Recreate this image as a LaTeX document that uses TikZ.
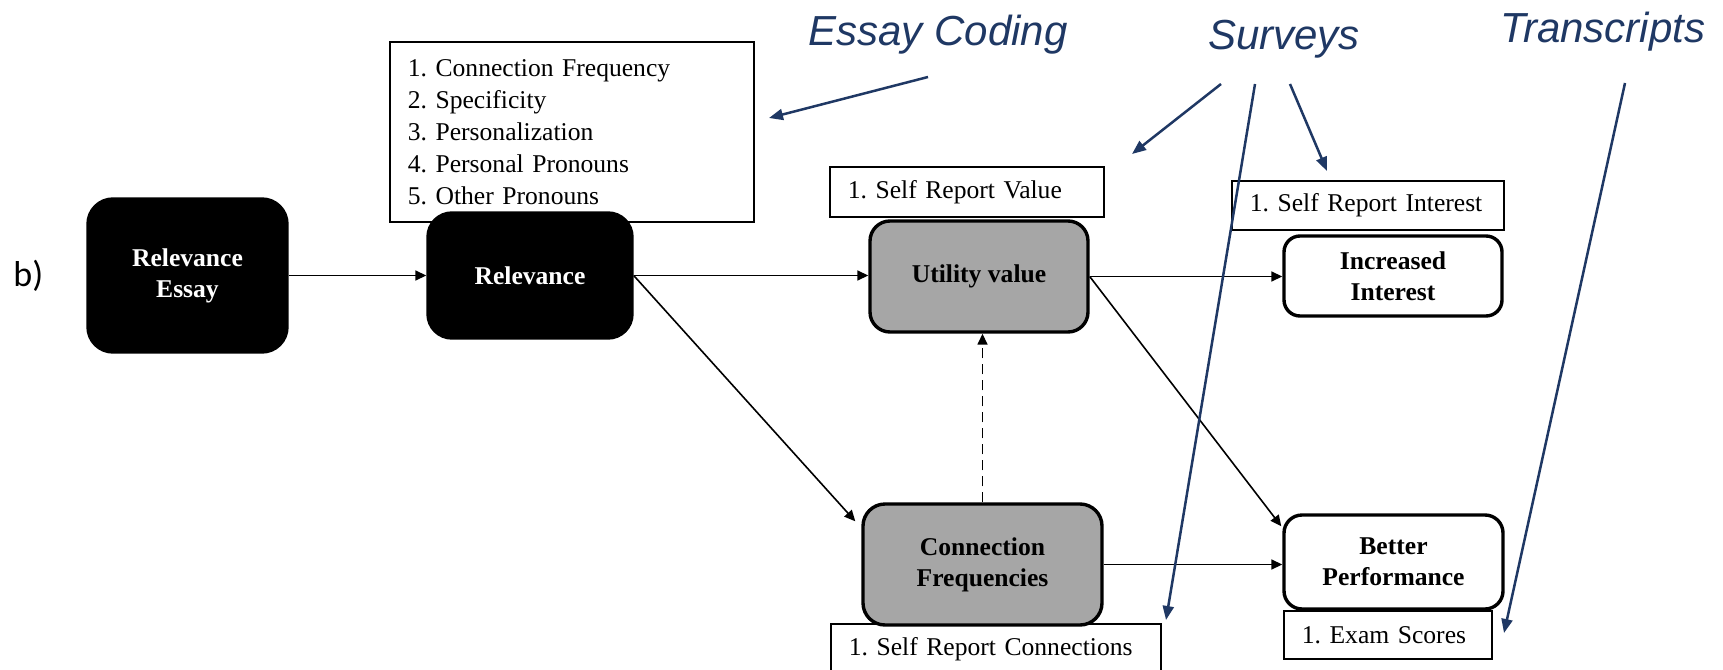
\documentclass[tikz,border=0pt]{standalone}
\usepackage{fontspec}
\setmainfont{Liberation Serif}
\newfontfamily\labelfont{Liberation Sans}
\newfontfamily\tagfont{Carlito}
\usetikzlibrary{arrows.meta,calc}
\definecolor{srcblue}{RGB}{31,56,100}
\definecolor{boxgray}{RGB}{166,166,166}

\begin{document}
\begin{tikzpicture}[x=0.5pt,y=-0.5pt,
  mainbox/.style={draw=black, line width=1.7pt, rounded corners=#1,
    font=\fontsize{12.8}{15.5}\selectfont\bfseries, align=center, inner sep=0pt},
  darkbox/.style={mainbox=#1, fill=black, text=white},
  greybox/.style={mainbox=#1, fill=boxgray},
  whitebox/.style={mainbox=#1, fill=white},
  measurebox/.style={draw=black, line width=0.85pt, fill=white, anchor=north west,
    inner xsep=9pt, inner ysep=0pt, align=left,
    font=\fontsize{12.8}{16}\selectfont\frenchspacing},
  link/.style={draw=black, line width=0.8pt, -{Triangle[length=5.5pt,width=5pt]}},
  source/.style={font=\labelfont\itshape\fontsize{21}{24}\selectfont, text=srcblue, anchor=base, inner sep=0pt},
  sourcearrow/.style={draw=srcblue, line width=1.25pt, -{Triangle[length=7pt,width=5.5pt]}}
]
\fill[white] (0,0) rectangle (1723,669);
\clip (0,0) rectangle (1723,669);

% panel tag
\node[anchor=base west, inner sep=0pt, font=\tagfont\fontsize{18}{20}\selectfont] (tag) at (13,286) {b)};

% measurement boxes
\node[measurebox, text width=164pt, minimum height=90pt] (measures) at (389,41)
  {1. Connection Frequency\\2. Specificity\\3. Personalization\\4. Personal Pronouns\\5. Other Pronouns};
\node[measurebox, text width=119pt, minimum height=25pt] (srv) at (829,166) {\mbox{1. Self Report Value}};
\node[measurebox, text width=118pt, minimum height=24.5pt] (sri) at (1231,180) {\mbox{1. Self Report Interest}};
\node[measurebox, text width=147pt, minimum height=25pt] (src) at (830,623) {\mbox{1. Self Report Connections}};
\node[measurebox, text width=86pt, minimum height=24pt] (exam) at (1283,610) {\mbox{1. Exam Scores}};

% constructs
\node[darkbox=12.5pt, minimum width=99.5pt, minimum height=76.5pt] (essay) at (187.5,275.5) {Relevance\\Essay};
\node[darkbox=12pt, minimum width=102pt, minimum height=62.5pt] (rel) at (530,275.5) {Relevance};
\node[greybox=10pt, minimum width=109pt, minimum height=55.5pt] (util) at (979,276.5) {Utility value};
\node[whitebox=8pt, minimum width=109pt, minimum height=40pt] (inc) at (1393,276) {Increased\\Interest};
\node[greybox=11pt, minimum width=119.5pt, minimum height=60.5pt] (conn) at (982.5,564.5) {Connection\\Frequencies};
\node[whitebox=9pt, minimum width=109.5pt, minimum height=47pt] (better) at (1393.5,562) {Better\\Performance};

% paths between constructs
\draw[link] (essay.east) -- (essay.east -| rel.west);
\draw[link] (rel.east) -- (rel.east -| util.west);
\draw[link] (rel.east) -- ($(conn.north west)+(-6,19)$);
\draw[link] (util.east) -- (util.east -| inc.west);
\draw[link] (util.east) -- ($(better.north west)+(-1,13)$);
\draw[link] (conn.east) -- (conn.east -| better.west);
\draw[link, dashed, dash pattern=on 5pt off 3pt] (conn.north) -- (conn.north |- util.south);

% data sources
\node[source] (coding) at (938,45) {Essay Coding};
\node[source] (surveys) at (1284,49) {Surveys};
\node[source] (transcripts) at (1603,42) {Transcripts};

\coordinate (codingfrom) at (928,77);
\coordinate (codingto) at (769,118);
\coordinate (survAfrom) at (1221,84);
\coordinate (survAto) at (1132,154);
\coordinate (survBfrom) at (1255,84);
\coordinate (survBto) at (1166,620);
\coordinate (survCfrom) at (1290,84);
\coordinate (survCto) at (1327,171);
\coordinate (transfrom) at (1625,83);
\coordinate (transto) at (1504,633);

\draw[sourcearrow] (codingfrom) -- (codingto);
\draw[sourcearrow] (survAfrom) -- (survAto);
\draw[sourcearrow] (survBfrom) -- (survBto);
\draw[sourcearrow] (survCfrom) -- (survCto);
\draw[sourcearrow] (transfrom) -- (transto);
\end{tikzpicture}
\end{document}
